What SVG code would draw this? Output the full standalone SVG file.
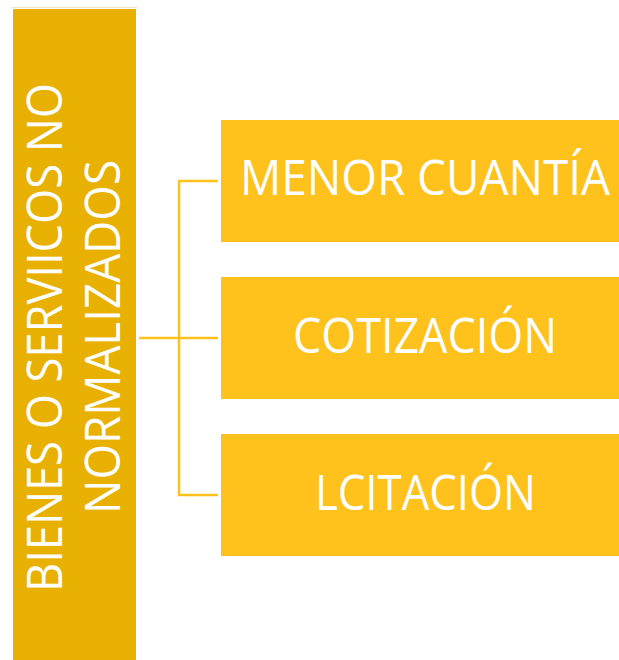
<svg xmlns="http://www.w3.org/2000/svg" width="619" height="660" viewBox="0 0 619 660">
<style>
.lbl{font-family:"Open Sans","Noto Sans","Liberation Sans",sans-serif;fill:#FFFFFF;font-size:50px;text-anchor:middle}
.box{fill:#FFC11B}
.conn{stroke:#FFC11B;stroke-width:2.5;fill:none}
</style>
<rect width="619" height="660" fill="#FFFFFF"/>
<g id="root">
<line x1="11" y1="7.5" x2="137" y2="7.5" stroke="#F3E3BE" stroke-width="1"/>
<rect x="13" y="9" width="123" height="651" fill="#E8B000"/>
<text class="lbl" transform="translate(62,337.5) rotate(-90)" textLength="509" lengthAdjust="spacingAndGlyphs">BIENES O SERVIICOS NO</text>
<text class="lbl" transform="translate(120,337) rotate(-90)" textLength="354" lengthAdjust="spacingAndGlyphs">NORMALIZADOS</text>
</g>
<g id="connectors">
<path class="conn" d="M218 181 H179 V495 H218"/>
<line class="conn" x1="139" y1="338" x2="218" y2="338"/>
</g>
<g id="n1">
<rect class="box" x="221" y="120" width="398" height="122"/>
<text class="lbl" x="425" y="195" textLength="370" lengthAdjust="spacingAndGlyphs">MENOR CUANTÍA</text>
</g>
<g id="n2">
<rect class="box" x="221" y="277" width="398" height="122"/>
<text class="lbl" x="425" y="353" textLength="264" lengthAdjust="spacingAndGlyphs">COTIZACIÓN</text>
</g>
<g id="n3">
<rect class="box" x="221" y="434" width="398" height="122"/>
<text class="lbl" x="425.5" y="510" textLength="221" lengthAdjust="spacingAndGlyphs">LCITACIÓN</text>
</g>
</svg>
